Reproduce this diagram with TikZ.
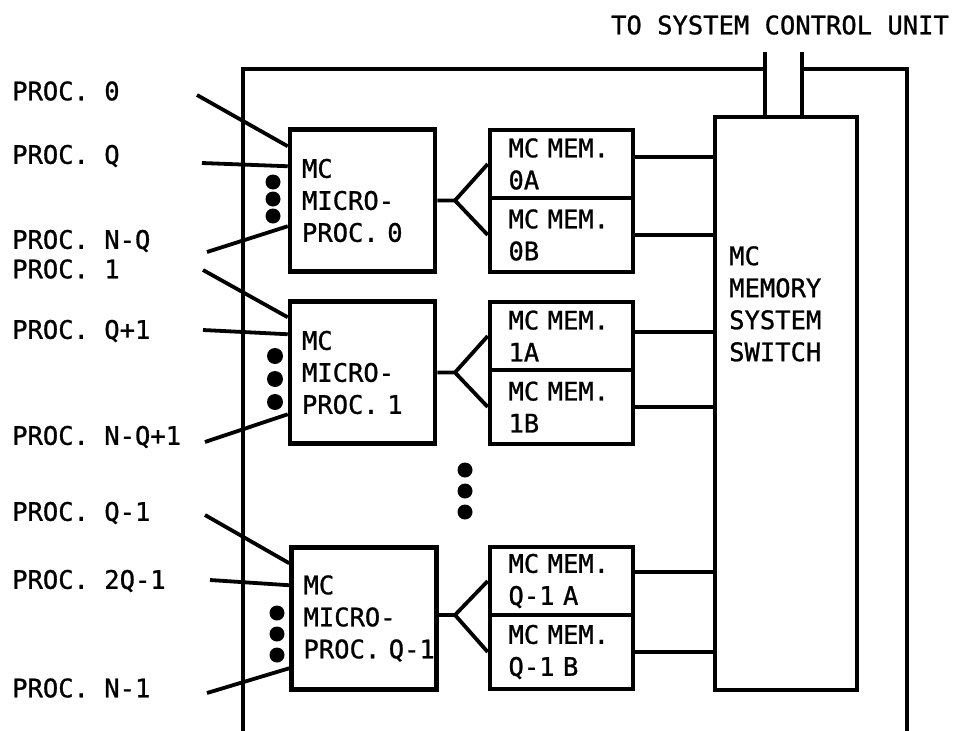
\documentclass[tikz,border=0pt]{standalone}
\usepackage{fontspec}
\setmainfont{DejaVu Sans Mono}[FakeBold=1]
\tikzset{
  mcfont/.style={font=\fontsize{25.5}{32}\selectfont},
  mcbox/.style={draw, rectangle, line width=4.5pt, align=left, inner sep=0pt, mcfont},
  procbox/.style={mcbox, minimum width=145pt, minimum height=142pt, text width=121pt},
  membox/.style={mcbox, minimum width=143pt, text width=106pt},
  wire/.style={line width=3.8pt},
  lbl/.style={mcfont, inner sep=0pt},
}
\begin{document}
\begin{tikzpicture}[x=1pt, y=-1pt]
\useasboundingbox (0,0) rectangle (959,731);

% Switch und Rahmen
\node[mcbox, minimum width=142pt, minimum height=573pt] (sw) at (786,403.5) {};
\node[lbl, anchor=north west, align=left] (swtxt) at (729,246) {MC\\MEMORY\\SYSTEM\\SWITCH};
\node[lbl] (scu) at (780,25) {TO SYSTEM CONTROL UNIT};
\coordinate (scuA) at (765,52);
\coordinate (scuB) at (802,52);
\draw[wire] (243,731) -- (243,69) -- (scuA |- 0,69);
\draw[wire] (scuA) -- (scuA |- sw.north);
\draw[wire] (scuB) -- (scuB |- sw.north);
\draw[wire] (scuB |- 0,69) -- (907,69) -- (907,731);

% Gruppe 0
\node[procbox] (mp0) at (362.5,200.5) {MC\\MICRO-\\\mbox{PROC. 0}};
\node[membox, minimum height=68pt] (m0a) at (561.5,164) {MC MEM.\\0A};
\node[membox, minimum height=74pt] (m0b) at (561.5,235) {MC MEM.\\0B};
\coordinate (f0) at (455,200.5);
\draw[wire] (mp0.east) -- (f0) -- (m0a.west);
\draw[wire] (f0) -- (m0b.west);
\draw[wire] ([yshift=7pt]m0a.east) -- ([yshift=7pt]m0a.east -| sw.west);
\draw[wire] (m0b.east) -- (m0b.east -| sw.west);
\node[lbl, anchor=west] (p0) at (12,91) {PROC. 0};
\node[lbl, anchor=west] (pq) at (12,156) {PROC. Q};
\node[lbl, anchor=west] (pnq) at (12,241) {PROC. N-Q};
\coordinate (i0a) at (197,95);
\coordinate (i0b) at (202,163);
\coordinate (i0c) at (207,252);
\draw[wire] (i0a) -- ([yshift=-19pt]mp0.north west);
\draw[wire] (i0b) -- ([yshift=-39pt]mp0.north west);
\draw[wire] (i0c) -- ([yshift=-99pt]mp0.north west);
\fill (273,182) circle (7.5pt);
\fill (273,199) circle (7.5pt);
\fill (273,216) circle (7.5pt);

% Gruppe 1
\node[procbox] (mp1) at (362.5,372.5) {MC\\MICRO-\\\mbox{PROC. 1}};
\node[membox, minimum height=68pt] (m1a) at (561.5,336) {MC MEM.\\1A};
\node[membox, minimum height=74pt] (m1b) at (561.5,407) {MC MEM.\\1B};
\coordinate (f1) at (455,372.5);
\draw[wire] (mp1.east) -- (f1) -- (m1a.west);
\draw[wire] (f1) -- (m1b.west);
\draw[wire] ([yshift=4pt]m1a.east) -- ([yshift=4pt]m1a.east -| sw.west);
\draw[wire] (m1b.east) -- (m1b.east -| sw.west);
\node[lbl, anchor=west] (p1) at (12,269) {PROC. 1};
\node[lbl, anchor=west] (pq1) at (12,331) {PROC. Q+1};
\node[lbl, anchor=west] (pnq1) at (12,437) {PROC. N-Q+1};
\coordinate (i1a) at (203,270);
\coordinate (i1b) at (203,330);
\coordinate (i1c) at (205,442);
\draw[wire] (i1a) -- ([yshift=-18pt]mp1.north west);
\draw[wire] (i1b) -- ([yshift=-35pt]mp1.north west);
\draw[wire] (i1c) -- ([yshift=-115pt]mp1.north west);
\fill (275,356) circle (8pt);
\fill (275,379) circle (8pt);
\fill (275,402) circle (8pt);

% Punkte dazwischen
\fill (465,470) circle (7.5pt);
\fill (465,491) circle (7.5pt);
\fill (465,512) circle (7.5pt);

% Gruppe Q-1
\node[procbox] (mpq) at (364,618.5) {MC\\MICRO-\\\mbox{PROC. Q-1}};
\node[membox, minimum height=68pt] (mqa) at (561.5,581) {MC MEM.\\\mbox{Q-1 A}};
\node[membox, minimum height=74pt] (mqb) at (561.5,652) {MC MEM.\\\mbox{Q-1 B}};
\coordinate (fq) at (455,615);
\draw[wire] (mpq.east |- fq) -- (fq) -- (mqa.west);
\draw[wire] (fq) -- (mqb.west);
\draw[wire] ([yshift=9pt]mqa.east) -- ([yshift=9pt]mqa.east -| sw.west);
\draw[wire] (mqb.east) -- (mqb.east -| sw.west);
\node[lbl, anchor=west] (pqm) at (12,513) {PROC. Q-1};
\node[lbl, anchor=west] (p2q) at (12,581) {PROC. 2Q-1};
\node[lbl, anchor=west] (pn1) at (12,688) {PROC. N-1};
\coordinate (iqa) at (205,515);
\coordinate (iqb) at (210,580);
\coordinate (iqc) at (207,693);
\draw[wire] (iqa) -- ([yshift=-18pt]mpq.north west);
\draw[wire] (iqb) -- ([yshift=-40pt]mpq.north west);
\draw[wire] (iqc) -- ([yshift=-123pt]mpq.north west);
\fill (277,613) circle (7.5pt);
\fill (277,634) circle (7.5pt);
\fill (277,655) circle (7.5pt);
\end{tikzpicture}
\end{document}
